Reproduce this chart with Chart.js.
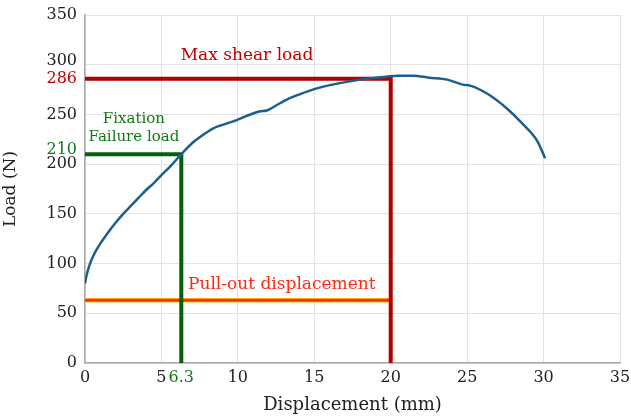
<!DOCTYPE html>
<html>
<head>
<meta charset="utf-8">
<script src="https://cdn.jsdelivr.net/npm/chart.js@4/dist/chart.umd.min.js"></script>
<style>
  html, body { margin: 0; padding: 0; background: #fff; }
  #wrap { width: 631px; height: 419px; }
</style>
</head>
<body>
<div id="wrap"><canvas id="chart"></canvas></div>
<script>
// load-displacement curve
const displacement = [0, 0.1, 0.33, 0.65, 1.0, 1.5, 2.0, 2.5, 3.0, 3.5, 4.0, 4.5, 5.0, 5.6, 6.3, 7.0, 7.5, 8.4, 9.7, 10.5, 11.4, 11.9, 12.5, 13.2, 14.0, 14.9, 16.5, 18.0, 19.7, 20.5, 21.5, 22.5, 23.7, 24.7, 25.2, 26.3, 27.6, 28.6, 29.6, 30.1];
const load = [80, 88, 100, 111, 120, 131, 141, 150, 158, 166, 174, 181, 189, 198, 210, 221, 227, 236, 243, 248, 253, 254, 259, 265, 270, 275, 281, 285, 288, 289, 289, 287, 285, 280, 279, 271, 256, 241, 223, 206];

// marked values
const maxShearLoad = 286;
const maxShearDisp = 20;
const failureLoad = 210;
const failureDisp = 6.3;
const pullOutLoad = 63;

const xTickValues = [0, 5, 10, 15, 20, 25, 30, 35];
const yTickValues = [0, 50, 100, 150, 200, 250, 300, 350];

const darkRed = "#b00000";
const green = "#0f7a14";
const lineGreen = "#05600a";
const orangeRed = "#ff2a10";
const serif = "'DejaVu Serif', 'Liberation Serif', serif";

const curve = displacement.map((x, i) => ({ x, y: load[i] }));

function tickColor(v) {
    if (v === maxShearLoad) return "#c00000";
    if (v === failureLoad || v === failureDisp) return green;
    return "#222";
}

const labelsPlugin = {
    id: "markLabels",
    afterDatasetsDraw(chart) {
        const { ctx, scales } = chart;
        const x = scales.x, y = scales.y;
        ctx.save();
        ctx.font = "17px " + serif;
        ctx.textBaseline = "middle";
        ctx.textAlign = "center";
        ctx.fillStyle = "#c00000";
        ctx.fillText("Max shear load", x.getPixelForValue(10.6), y.getPixelForValue(309));
        ctx.font = "15px " + serif;
        ctx.fillStyle = green;
        ctx.fillText("Fixation", x.getPixelForValue(3.2), y.getPixelForValue(245));
        ctx.fillText("Failure load", x.getPixelForValue(3.2), y.getPixelForValue(227));
        ctx.font = "17px " + serif;
        ctx.textAlign = "left";
        ctx.fillStyle = orangeRed;
        ctx.fillText("Pull-out displacement", x.getPixelForValue(6.74), y.getPixelForValue(79));
        ctx.restore();
    }
};

new Chart(document.getElementById("chart"), {
    type: "line",
    data: {
        datasets: [
            {
                data: [{ x: 0, y: pullOutLoad }, { x: maxShearDisp, y: pullOutLoad }],
                borderColor: "#ffc81a", borderWidth: 4.5, pointRadius: 0, order: 5
            },
            {
                data: [{ x: 0, y: pullOutLoad }, { x: maxShearDisp, y: pullOutLoad }],
                borderColor: "#ff3000", borderWidth: 3, pointRadius: 0, order: 4
            },
            {
                data: [{ x: 0, y: failureLoad }, { x: failureDisp, y: failureLoad }, { x: failureDisp, y: 0 }],
                borderColor: lineGreen, borderWidth: 4, pointRadius: 0, order: 3
            },
            {
                data: [{ x: 0, y: maxShearLoad }, { x: maxShearDisp, y: maxShearLoad }, { x: maxShearDisp, y: 0 }],
                borderColor: darkRed, borderWidth: 4, pointRadius: 0, order: 2
            },
            {
                data: curve,
                borderColor: "#1d5f8c", borderWidth: 2.5, pointRadius: 0,
                cubicInterpolationMode: "monotone", order: 1
            }
        ]
    },
    options: {
        responsive: true,
        maintainAspectRatio: false,
        animation: false,
        layout: { padding: { top: 15, right: 11, left: 0, bottom: 0 } },
        plugins: { legend: { display: false }, tooltip: { enabled: false } },
        scales: {
            x: {
                type: "linear",
                min: 0, max: 35,
                afterFit: (s) => { s.height = 56; s.paddingRight = 0; s.paddingLeft = 0; },
                afterBuildTicks: (s) => {
                    s.ticks = xTickValues.concat([failureDisp]).sort((a, b) => a - b).map(v => ({ value: v }));
                },
                grid: {
                    color: (c) => (c.tick && c.tick.value === failureDisp ? "rgba(0,0,0,0)" : "#e2e2e2"),
                    drawTicks: false
                },
                border: { color: "#aaa", width: 1.5 },
                ticks: {
                    autoSkip: false, maxRotation: 0, padding: 5,
                    color: (c) => tickColor(c.tick.value),
                    font: { family: serif, size: 16 },
                    callback: (v) => String(v)
                },
                title: {
                    display: true, text: "Displacement (mm)", color: "#222",
                    font: { family: serif, size: 18 }, padding: { top: 0, bottom: 3 }
                }
            },
            y: {
                type: "linear",
                min: 0, max: 350,
                afterFit: (s) => { s.width = 85; s.paddingTop = 0; s.paddingBottom = 0; },
                afterBuildTicks: (s) => {
                    s.ticks = yTickValues.concat([failureLoad, maxShearLoad]).sort((a, b) => a - b).map(v => ({ value: v }));
                },
                grid: {
                    color: (c) => (c.tick && (c.tick.value === failureLoad || c.tick.value === maxShearLoad) ? "rgba(0,0,0,0)" : "#e2e2e2"),
                    drawTicks: false
                },
                border: { color: "#aaa", width: 1.5 },
                ticks: {
                    autoSkip: false, padding: 8,
                    color: (c) => tickColor(c.tick.value),
                    font: (c) => ({ family: serif, size: 16, lineHeight: (c.tick && (c.tick.value === failureLoad || c.tick.value === 300)) ? 0.5 : 1.2 }),
                    callback: (v) => (v === failureLoad || v === 300 ? [String(v), ""] : String(v))
                },
                title: {
                    display: true, text: "Load (N)", color: "#222",
                    font: { family: serif, size: 17 }, padding: { top: 0, bottom: 0 }
                }
            }
        }
    },
    plugins: [labelsPlugin]
});
</script>
</body>
</html>
